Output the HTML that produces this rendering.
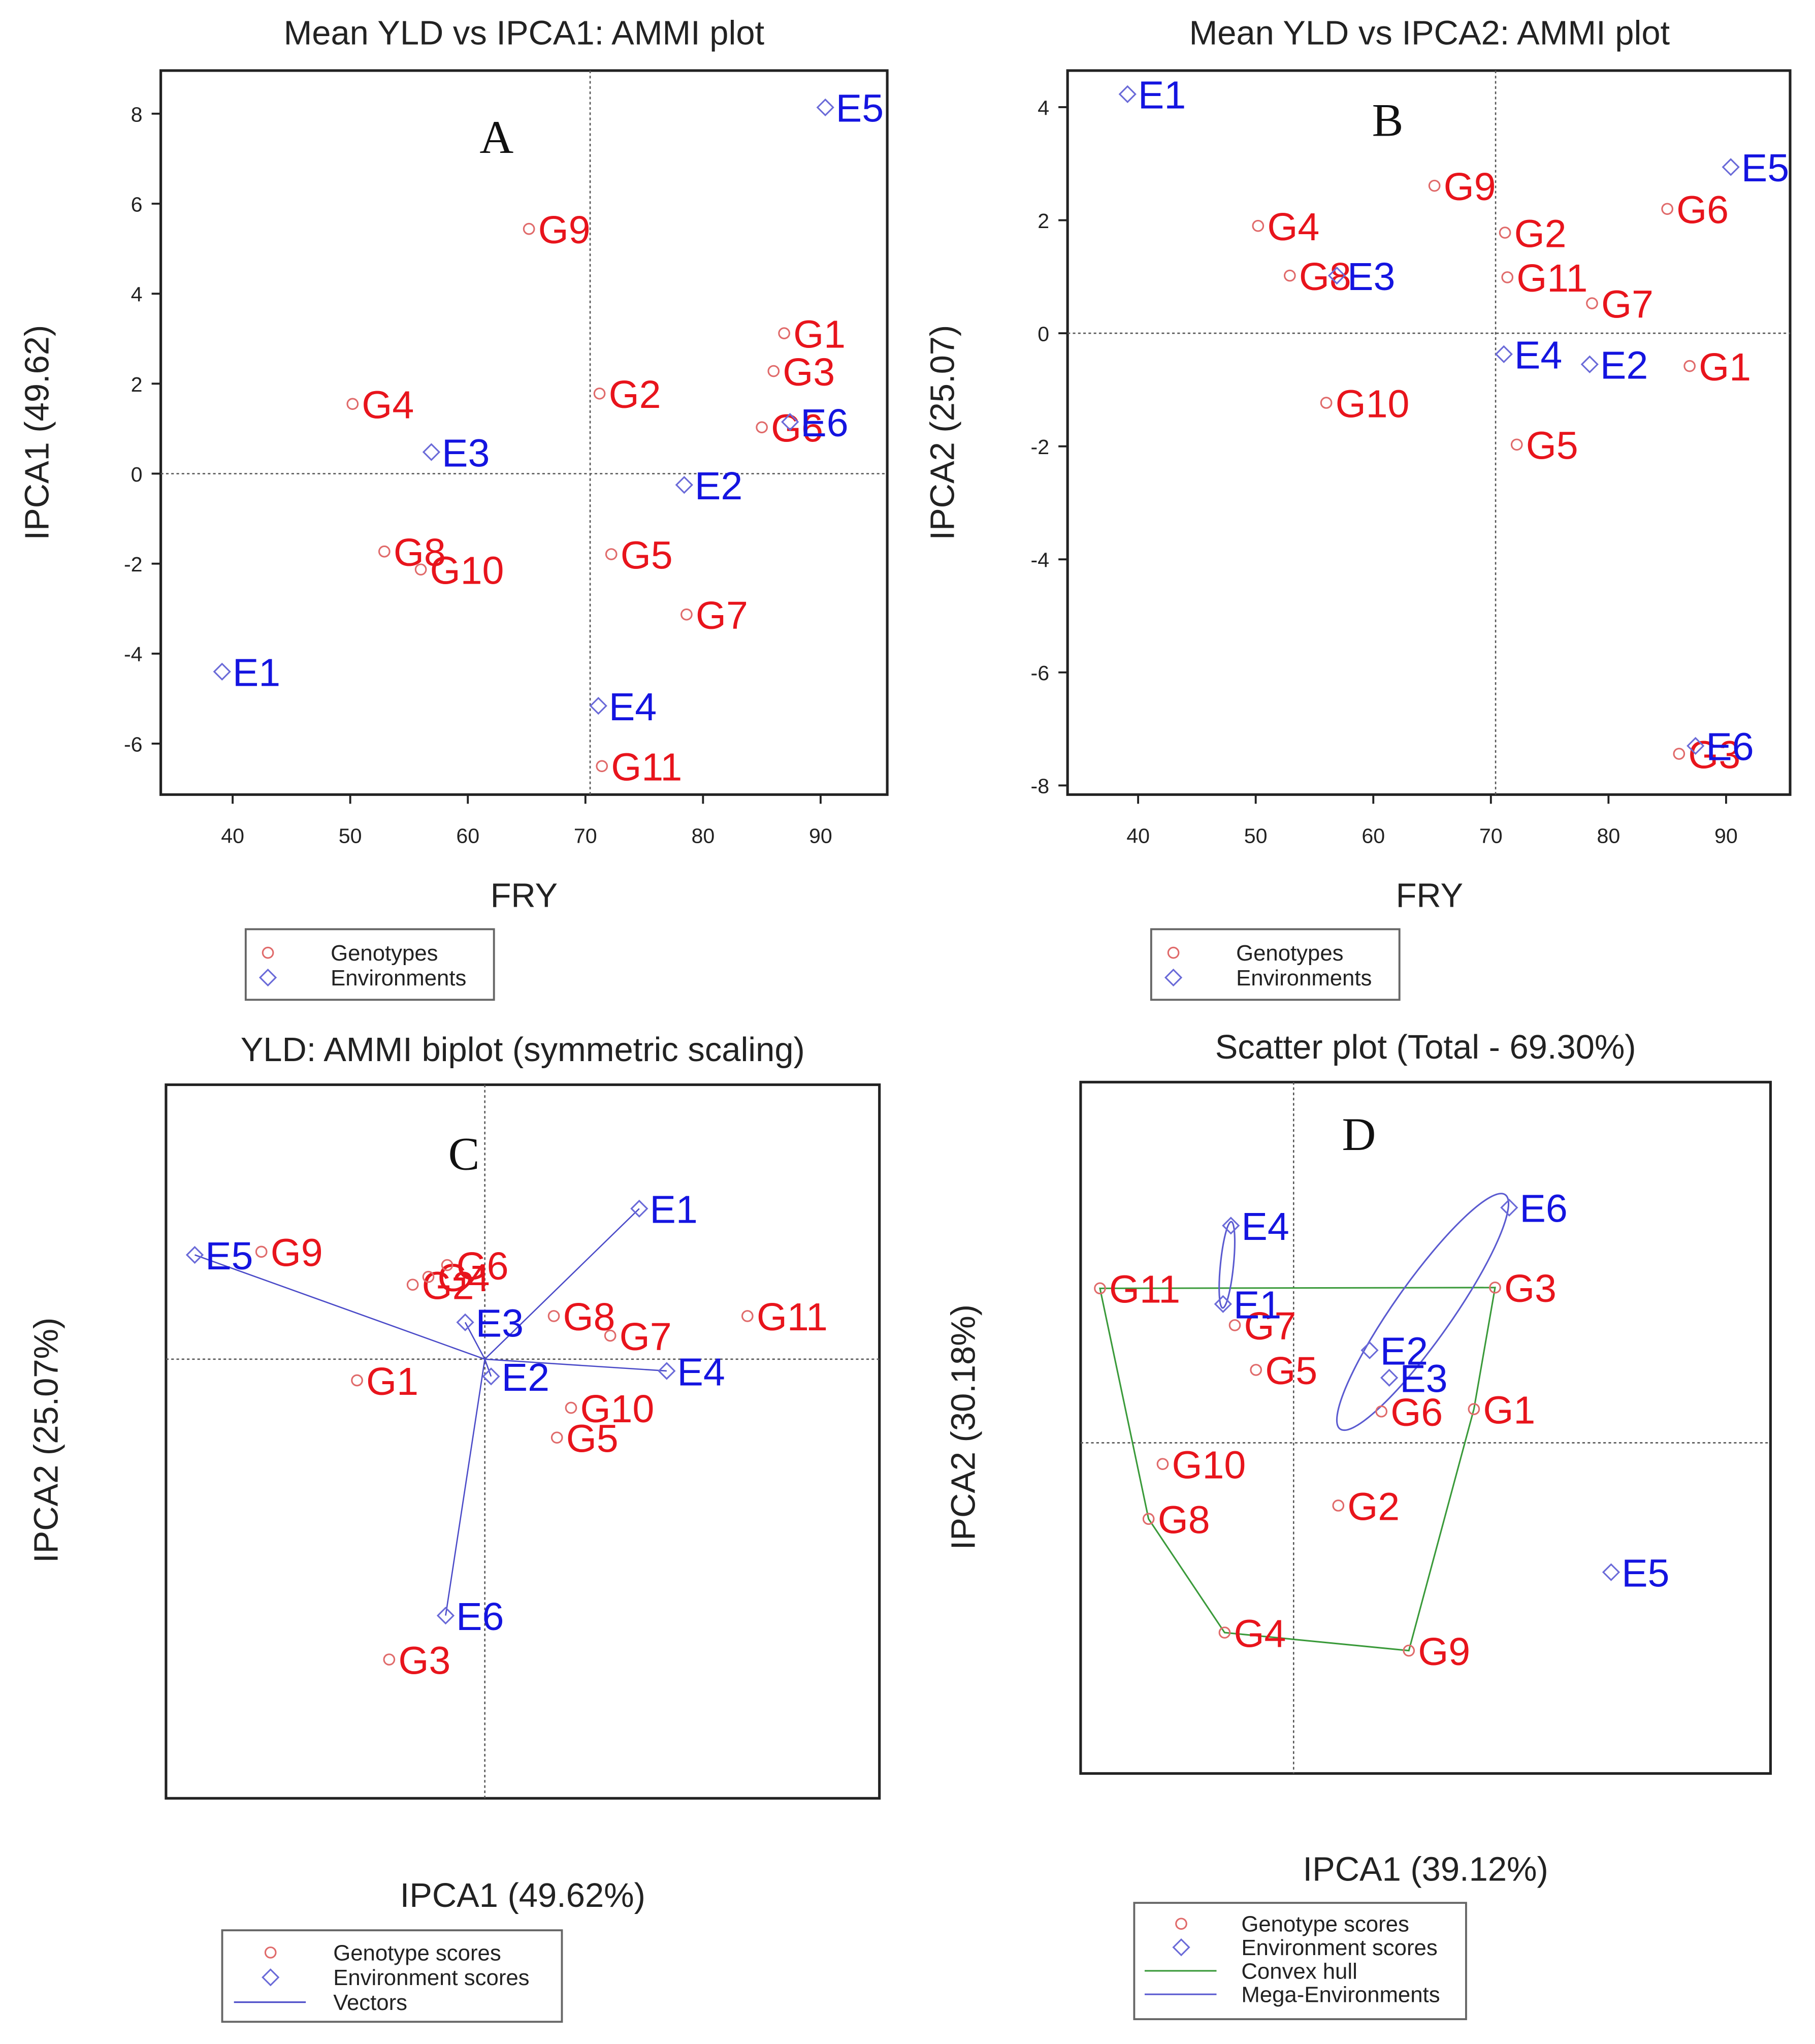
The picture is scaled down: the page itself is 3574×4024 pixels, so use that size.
<!DOCTYPE html>
<html><head><meta charset="utf-8"><style>
html,body{margin:0;padding:0;background:#fff}
svg{display:block}
text{font-family:"Liberation Sans",Arial,sans-serif}
</style></head><body>
<svg id="s" width="3574" height="4024" viewBox="0 0 1389 1564" xmlns="http://www.w3.org/2000/svg">
<rect x="0" y="0" width="1389" height="1564" fill="#fff"/>
</svg>
<script>
// ---- data ----
const genotypes = ["G1","G2","G3","G4","G5","G6","G7","G8","G9","G10","G11"];
const environments = ["E1","E2","E3","E4","E5","E6"];
const genoFRY = [86.9,71.2,86.0,50.2,72.2,85.0,78.6,52.9,65.2,56.0,71.4];
const envFRY = [39.1,78.4,56.9,71.1,90.4,87.4];
const genoIPCA1 = [3.12,1.78,2.28,1.55,-1.79,1.03,-3.13,-1.73,5.44,-2.13,-6.5];
const envIPCA1 = [-4.4,-0.25,0.48,-5.16,8.14,1.15];
const genoIPCA2 = [-0.58,1.78,-7.44,1.9,-1.97,2.2,0.53,1.02,2.61,-1.23,0.99];
const envIPCA2 = [4.23,-0.55,1.02,-0.37,2.94,-7.3];
const meanFRY = 70.4;
const xTicksFRY = [40,50,60,70,80,90];
const yTicksA = [-6,-4,-2,0,2,4,6,8];
const yTicksB = [-8,-6,-4,-2,0,2,4];
// biplot C (symmetric scaling)
const genoC1 = [-1.63,-0.92,-1.22,-0.72,0.92,-0.48,1.6,0.88,-2.85,1.1,3.35];
const genoC2 = [-0.27,0.95,-3.83,1.05,-1.0,1.2,0.3,0.55,1.37,-0.62,0.55];
const envC1 = [1.97,0.08,-0.25,2.32,-3.7,-0.5];
const envC2 = [1.92,-0.22,0.47,-0.15,1.33,-3.27];
// scatter D
const genoD1 = [2.3,0.57,2.57,-0.88,-0.48,1.12,-0.75,-1.85,1.47,-1.67,-2.47];
const genoD2 = [0.43,-0.8,1.98,-2.42,0.93,0.4,1.5,-0.97,-2.65,-0.27,1.97];
const envD1 = [-0.9,0.97,1.22,-0.8,4.05,2.75];
const envD2 = [1.77,1.18,0.83,2.77,-1.65,3.0];
const megaEnvs = [["E2","E3","E6"],["E1","E4"]];

const NS="http://www.w3.org/2000/svg";
const svg=document.getElementById('s');
function mk(tag,attrs,parent,txt){const e=document.createElementNS(NS,tag);for(const k in attrs)e.setAttribute(k,attrs[k]);if(txt!==undefined)e.textContent=txt;(parent||svg).appendChild(e);return e;}
const RED="#e8141c",BLUE="#1414e0",MRED="#e06a6a",MBLUE="#6a6ad8";

function linear(d0,d1,r0,r1){return v=>r0+(v-d0)*(r1-r0)/(d1-d0);}

function panel(name,box,title,tx,ty){
  const g=mk('g',{});
  
  
  const r=mk('rect',{x:box[0],y:box[1],width:box[2]-box[0],height:box[3]-box[1],fill:'none',stroke:'#222','stroke-width':2},g);
  
  
  const t=mk('text',{x:tx,y:ty,'font-size':26,'text-anchor':'middle',fill:'#222'},g,title);
  
  
  return g;
}
function dashed(g,x1,y1,x2,y2){const l=mk('line',{x1,y1,x2,y2,stroke:'#555','stroke-width':1,'stroke-dasharray':'2,2'},g);}
function gpt(g,x,y,lab){
  const c=mk('circle',{cx:x,cy:y,r:4,fill:'none',stroke:MRED,'stroke-width':1.2},g);
  
  
  const t=mk('text',{x:x+7,y:y+11,'font-size':30,fill:RED},g,lab);
  
  
}
function ept(g,x,y,lab){
  const d=mk('polygon',{points:`${x},${y-6} ${x+6},${y} ${x},${y+6} ${x-6},${y}`,fill:'none',stroke:MBLUE,'stroke-width':1.2},g);
  
  
  const t=mk('text',{x:x+8,y:y+11,'font-size':30,fill:BLUE},g,lab);
  
  
}
function xticks(g,sx,vals,yb){vals.forEach(v=>{const x=sx(v);mk('line',{x1:x,y1:yb,x2:x,y2:yb+7,stroke:'#222','stroke-width':1.5},g);const t=mk('text',{x:x,y:yb+37,'font-size':16,'text-anchor':'middle',fill:'#222'},g,v);});}
function yticks(g,sy,vals,xl){vals.forEach(v=>{const y=sy(v);mk('line',{x1:xl-7,y1:y,x2:xl,y2:y,stroke:'#222','stroke-width':1.5},g);const t=mk('text',{x:xl-14,y:y+6,'font-size':16,'text-anchor':'end',fill:'#222'},g,v);});}
function axTitle(g,x,y,txt,rot,name){const a={x,y,'font-size':26,'text-anchor':'middle',fill:'#222'};if(rot)a.transform=`rotate(-90 ${x} ${y})`;const t=mk('text',a,g,txt);}
function letter(g,x,y,l){const t=mk('text',{x,y,'font-size':36,'text-anchor':'middle',fill:'#111',style:'font-family:"Liberation Serif",serif'},g,l);}
function legend(box,entries){
  const g=mk('g',{});
  
  
  mk('rect',{x:box[0],y:box[1],width:box[2]-box[0],height:box[3]-box[1],fill:'#fff',stroke:'#666','stroke-width':1.5},g);
  entries.forEach(e=>{
    const eg=mk('g',{},g);
    
    
    if(e.k==='c')mk('circle',{cx:e.mx,cy:e.y,r:4,fill:'none',stroke:MRED,'stroke-width':1.2},eg);
    else if(e.k==='d')mk('polygon',{points:`${e.mx},${e.y-6} ${e.mx+6},${e.y} ${e.mx},${e.y+6} ${e.mx-6},${e.y}`,fill:'none',stroke:MBLUE,'stroke-width':1.2},eg);
    else mk('line',{x1:e.mx-28,y1:e.y,x2:e.mx+27,y2:e.y,stroke:e.col,'stroke-width':1.2},eg);
    mk('text',{x:e.tx,y:e.y+6,'font-size':17,fill:'#222'},eg,e.t);
  });
}

// ---- Panel A ----
(function(){
  const box=[123,54,679,608];
  const g=panel('panel-a-ipca1-vs-fry',box,'Mean YLD vs IPCA1: AMMI plot',401,34);
  const sx=linear(40,90,178,628), sy=linear(8,-6,87,569);
  dashed(g,sx(meanFRY),box[1],sx(meanFRY),box[3]);
  dashed(g,box[0],sy(0),box[2],sy(0));
  xticks(g,sx,xTicksFRY,box[3]); yticks(g,sy,yTicksA,box[0]);
  axTitle(g,401,694,'FRY',false,'x-axis-title');
  axTitle(g,37,331,'IPCA1 (49.62)',true,'y-axis-title');
  letter(g,380,117,'A');
  genotypes.forEach((n,i)=>gpt(g,sx(genoFRY[i]),sy(genoIPCA1[i]),n));
  environments.forEach((n,i)=>ept(g,sx(envFRY[i]),sy(envIPCA1[i]),n));
  legend([188,711,378,765],[{k:'c',mx:205,tx:253,y:729,t:'Genotypes'},{k:'d',mx:205,tx:253,y:748,t:'Environments'}]);
})();

// ---- Panel B ----
(function(){
  const box=[817,54,1370,608];
  const g=panel('panel-b-ipca2-vs-fry',box,'Mean YLD vs IPCA2: AMMI plot',1094,34);
  const sx=linear(40,90,871,1321), sy=linear(4,-8,82,601);
  dashed(g,sx(meanFRY),box[1],sx(meanFRY),box[3]);
  dashed(g,box[0],sy(0),box[2],sy(0));
  xticks(g,sx,xTicksFRY,box[3]); yticks(g,sy,yTicksB,box[0]);
  axTitle(g,1094,694,'FRY',false,'x-axis-title');
  axTitle(g,730,331,'IPCA2 (25.07)',true,'y-axis-title');
  letter(g,1062,104,'B');
  genotypes.forEach((n,i)=>gpt(g,sx(genoFRY[i]),sy(genoIPCA2[i]),n));
  environments.forEach((n,i)=>ept(g,sx(envFRY[i]),sy(envIPCA2[i]),n));
  legend([881,711,1071,765],[{k:'c',mx:898,tx:946,y:729,t:'Genotypes'},{k:'d',mx:898,tx:946,y:748,t:'Environments'}]);
})();

// ---- Panel C ----
(function(){
  const box=[127,830,673,1376];
  const g=panel('panel-c-biplot',box,'YLD: AMMI biplot (symmetric scaling)',400,812);
  const sx=v=>371+v*60, sy=v=>1040-v*60;
  dashed(g,sx(0),box[1],sx(0),box[3]);
  dashed(g,box[0],sy(0),box[2],sy(0));
  axTitle(g,400,1459,'IPCA1 (49.62%)',false,'x-axis-title');
  axTitle(g,44,1102,'IPCA2 (25.07%)',true,'y-axis-title');
  letter(g,355,895,'C');
  environments.forEach((n,i)=>{const l=mk('line',{x1:sx(0),y1:sy(0),x2:sx(envC1[i]),y2:sy(envC2[i]),stroke:'#4a4ac8','stroke-width':1},g);});
  genotypes.forEach((n,i)=>gpt(g,sx(genoC1[i]),sy(genoC2[i]),n));
  environments.forEach((n,i)=>ept(g,sx(envC1[i]),sy(envC2[i]),n));
  legend([170,1477,430,1547],[{k:'c',mx:207,tx:255,y:1494,t:'Genotype scores'},{k:'d',mx:207,tx:255,y:1513,t:'Environment scores'},{k:'l',mx:207,col:'#4a4ac8',tx:255,y:1532,t:'Vectors'}]);
})();

// ---- Panel D ----
(function(){
  const box=[827,828,1355,1357];
  const g=panel('panel-d-scatter',box,'Scatter plot (Total - 69.30%)',1091,810);
  const sx=v=>990+v*60, sy=v=>1104-v*60;
  dashed(g,sx(0),box[1],sx(0),box[3]);
  dashed(g,box[0],sy(0),box[2],sy(0));
  axTitle(g,1091,1439,'IPCA1 (39.12%)',false,'x-axis-title');
  axTitle(g,746,1092,'IPCA2 (30.18%)',true,'y-axis-title');
  letter(g,1040,880,'D');
  const pts=genotypes.map((n,i)=>[genoD1[i],genoD2[i]]).sort((a,b)=>a[0]-b[0]||a[1]-b[1]);
  const cr=(o,a,b)=>(a[0]-o[0])*(b[1]-o[1])-(a[1]-o[1])*(b[0]-o[0]);
  const lo=[],up=[];
  pts.forEach(p=>{while(lo.length>=2&&cr(lo[lo.length-2],lo[lo.length-1],p)<=0)lo.pop();lo.push(p);});
  pts.slice().reverse().forEach(p=>{while(up.length>=2&&cr(up[up.length-2],up[up.length-1],p)<=0)up.pop();up.push(p);});
  const hull=lo.slice(0,-1).concat(up.slice(0,-1));
  const hp=mk('polygon',{points:hull.map(p=>sx(p[0])+','+sy(p[1])).join(' '),fill:'none',stroke:'#3a9a3a','stroke-width':1.2},g);
  
  
  megaEnvs.forEach((grp,gi)=>{
    const P=grp.map(n=>{const i=environments.indexOf(n);return [sx(envD1[i]),sy(envD2[i])];});
    let best=[P[0],P[0]],bd=0;
    P.forEach(a=>P.forEach(b=>{const d=Math.hypot(a[0]-b[0],a[1]-b[1]);if(d>bd){bd=d;best=[a,b];}}));
    const cx=P.reduce((s,p)=>s+p[0],0)/P.length, cy=P.reduce((s,p)=>s+p[1],0)/P.length;
    const ang=Math.atan2(best[1][1]-best[0][1],best[1][0]-best[0][0])*180/Math.PI;
    const rx=bd/2+(gi===0?30:3), ry=gi===0?22:5;
    const e=mk('ellipse',{cx,cy,rx,ry,transform:`rotate(${ang} ${cx} ${cy})`,fill:'none',stroke:'#5a5ad0','stroke-width':1.2},g);
    
    
  });
  genotypes.forEach((n,i)=>gpt(g,sx(genoD1[i]),sy(genoD2[i]),n));
  environments.forEach((n,i)=>ept(g,sx(envD1[i]),sy(envD2[i]),n));
  legend([868,1456,1122,1545],[{k:'c',mx:904,tx:950,y:1472,t:'Genotype scores'},{k:'d',mx:904,tx:950,y:1490,t:'Environment scores'},{k:'l',mx:904,col:'#3a9a3a',tx:950,y:1508,t:'Convex hull'},{k:'l',mx:904,col:'#5a5ad0',tx:950,y:1526,t:'Mega-Environments'}]);
})();
</script>
</body></html>
